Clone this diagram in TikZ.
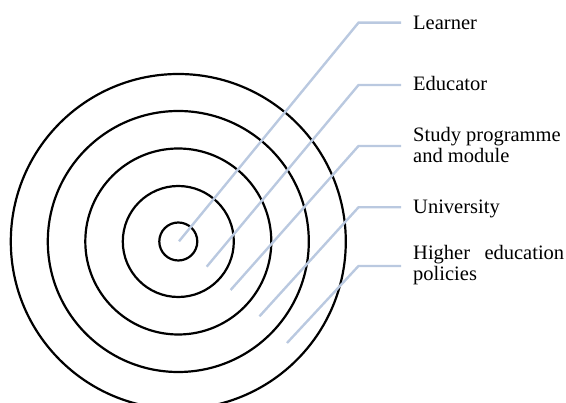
\documentclass[tikz,border=0pt]{standalone}
\usepackage{fontspec}
\setmainfont{Liberation Serif}
\definecolor{leadc}{RGB}{186,201,224}
\begin{document}
\begin{tikzpicture}[x=1pt,y=-1pt,
  ring/.style={draw=black,line width=2.2pt},
  leader/.style={draw=leadc,line width=2.4pt},
  lbl/.style={inner sep=0pt,anchor=base west,font=\fontsize{20.5pt}{21pt}\selectfont,align=left}]
\useasboundingbox (0,0) rectangle (566,403);
\coordinate (c) at (178.3,241.5);
\foreach \r in {19,55.5,93,130.5,167.5}
  \draw[ring] (c) circle[radius=\r];
% labels (base = baseline of last line)
\node[lbl] (t1) at (413,29.3) {Learner};
\node[lbl] (t2) at (413,91) {Educator};
\node[lbl] (t3) at (413,162.7) {Study programme\\and module};
\node[lbl] (t4) at (413,213.3) {University};
\node[lbl] (t5) at (413,281) {\makebox[151pt][l]{Higher\hfill education}\\policies};
% leader ends and bends
\coordinate (e1) at (179,241.3);   \coordinate (b1) at (358.5,22.7);
\coordinate (e2) at (206.7,266.7); \coordinate (b2) at (358.5,85);
\coordinate (e3) at (230.6,290);   \coordinate (b3) at (358.5,146);
\coordinate (e4) at (259.5,316.3); \coordinate (b4) at (358.5,207.3);
\coordinate (e5) at (287,343);     \coordinate (b5) at (358.5,266);
\foreach \i in {1,...,5}
  \draw[leader] (e\i) -- (b\i) -- ([xshift=-12pt]b\i -| t\i.west);
\end{tikzpicture}
\end{document}
